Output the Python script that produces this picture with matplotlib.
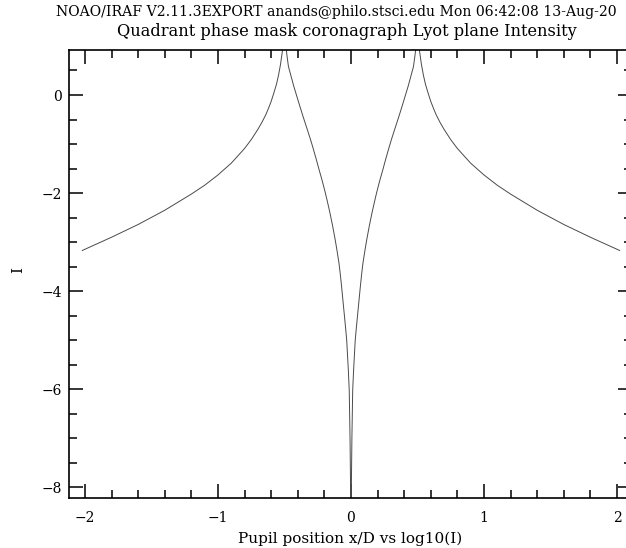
import numpy as np
import matplotlib.pyplot as plt
from matplotlib.ticker import MultipleLocator

# Lyot plane intensity cut, log10(I) vs pupil position x/D
x_left = [-2.02, -1.8, -1.6, -1.4, -1.2, -1.1, -1.0, -0.9, -0.8, -0.75,
          -0.7, -0.67, -0.64, -0.62, -0.6, -0.58, -0.56, -0.545, -0.53, -0.51,
          -0.5]
y_left = [-3.17, -2.90, -2.64, -2.35, -2.02, -1.84, -1.63, -1.39, -1.09, -0.91,
          -0.70, -0.56, -0.40, -0.27, -0.13, 0.04, 0.22, 0.40, 0.62, 1.0,
          1.4]

x_mid = [-0.5, -0.49, -0.48, -0.47, -0.45, -0.43, -0.41, -0.383, -0.36, -0.33,
         -0.305, -0.283, -0.26, -0.24, -0.215, -0.195, -0.18, -0.16, -0.14, -0.12,
         -0.105, -0.09, -0.08, -0.07, -0.06, -0.05, -0.04, -0.032, -0.026, -0.02,
         -0.013, -0.007, -0.003, 0.0,
         0.003, 0.007, 0.013, 0.02, 0.026, 0.032, 0.04, 0.05, 0.06, 0.07,
         0.08, 0.09, 0.105, 0.12, 0.14, 0.16, 0.18, 0.195, 0.215, 0.24,
         0.26, 0.283, 0.305, 0.33, 0.36, 0.383, 0.41, 0.43, 0.45, 0.47,
         0.48, 0.49, 0.5]
y_mid = [1.4, 1.0, 0.78, 0.58, 0.38, 0.18, 0.0, -0.24, -0.44, -0.69,
         -0.90, -1.10, -1.32, -1.52, -1.76, -1.97, -2.14, -2.38, -2.64, -2.93,
         -3.17, -3.43, -3.66, -3.92, -4.20, -4.48, -4.76, -5.0, -5.3, -5.6,
         -6.02, -7.0, -8.0, -9.0,
         -8.0, -7.0, -6.02, -5.6, -5.3, -5.0, -4.76, -4.48, -4.20, -3.92,
         -3.66, -3.43, -3.17, -2.93, -2.64, -2.38, -2.14, -1.97, -1.76, -1.52,
         -1.32, -1.10, -0.90, -0.69, -0.44, -0.24, 0.0, 0.18, 0.38, 0.58,
         0.78, 1.0, 1.4]

x_right = [0.5, 0.51, 0.53, 0.545, 0.56, 0.58, 0.6, 0.62, 0.64, 0.67,
           0.7, 0.75, 0.8, 0.9, 1.0, 1.1, 1.2, 1.4, 1.6, 1.8,
           2.02]
y_right = [1.4, 1.0, 0.62, 0.40, 0.22, 0.04, -0.13, -0.27, -0.40, -0.56,
           -0.70, -0.91, -1.09, -1.39, -1.63, -1.84, -2.02, -2.35, -2.64, -2.90,
           -3.17]

x_all = x_left + x_mid[1:] + x_right[1:]
y_all = y_left + y_mid[1:] + y_right[1:]

fnt = "DejaVu Serif"
plt.rcParams["font.family"] = fnt

fig = plt.figure(figsize=(6.26, 5.48), dpi=100)
ax = fig.add_axes([69/626, 50/548, 563/626, 448/548])
ax.plot(x_all, y_all, color="#4a4a4a", lw=0.7)

ax.set_xlim(-2.12, 2.113)
ax.set_ylim(-8.218, 0.918)
ax.xaxis.set_major_locator(MultipleLocator(1))
ax.xaxis.set_minor_locator(MultipleLocator(0.2))
ax.yaxis.set_major_locator(MultipleLocator(2))
ax.yaxis.set_minor_locator(MultipleLocator(0.5))
ax.tick_params(which="both", direction="in", top=True, right=True, width=1.1,
               labelsize=10)
ax.tick_params(which="major", length=10)
ax.tick_params(which="minor", length=5.8)
ax.tick_params(axis="x", pad=9)
ax.tick_params(axis="y", pad=5)
for s in ax.spines.values():
    s.set_linewidth(1.2)

ax.set_xlabel("Pupil position x/D vs log10(I)", fontsize=11, labelpad=5)

fig.text(18/626, 1 - 270/548, "I", rotation=90, ha="center", va="center",
         fontsize=11)
fig.text(336/626, 1 - 12/548,
         "NOAO/IRAF V2.11.3EXPORT anands@philo.stsci.edu Mon 06:42:08 13-Aug-20",
         ha="center", va="center", fontsize=10.1)
fig.text(347/626, 1 - 31/548,
         "Quadrant phase mask coronagraph Lyot plane Intensity",
         ha="center", va="center", fontsize=11.7)

fig.savefig("out.png", dpi=100)
